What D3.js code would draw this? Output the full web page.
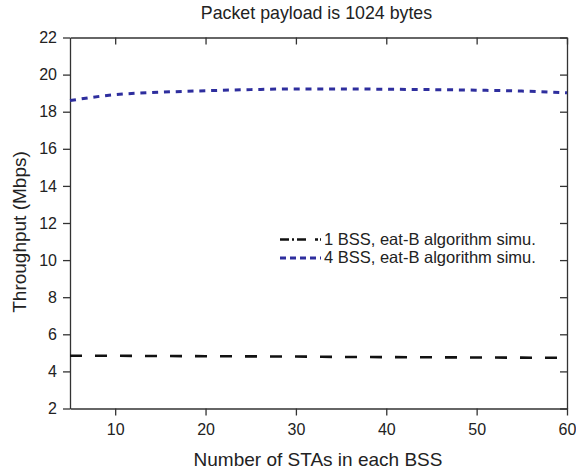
<!DOCTYPE html>
<html><head><meta charset="utf-8">
<script src="https://cdn.jsdelivr.net/npm/d3@7"></script>
<style>body{margin:0;background:#fff}svg{display:block;font-family:"Liberation Sans",Arial,sans-serif}</style>
</head><body><svg id="c" width="576" height="472"></svg>
<script>
const stas = [5,10,15,20,25,30,35,40,45,50,55,60];
const bss1 = [4.84,4.84,4.83,4.82,4.81,4.80,4.78,4.77,4.76,4.75,4.74,4.73];
const bss4 = [18.6,18.92,19.05,19.13,19.19,19.23,19.23,19.21,19.19,19.16,19.11,19.02];
const xTicks = [10,20,30,40,50,60];
const yTicks = [2,4,6,8,10,12,14,16,18,20,22];
const seriesNames = ["1 BSS, eat-B algorithm simu.","4 BSS, eat-B algorithm simu."];

const svg = d3.select("#c");
const L=70,R=567,T=37.5,B=408.5;
const x = d3.scaleLinear().domain([5,60]).range([L,R]);
const y = d3.scaleLinear().domain([2,22]).range([B,T]);
const tk = g=>g.selectAll("text").attr("font-size",16).attr("fill","#222");
const st = g=>{g.select(".domain").attr("stroke","#333").attr("stroke-width",1.3);g.selectAll("line").attr("stroke","#333").attr("stroke-width",1.3);};

svg.append("g").attr("transform",`translate(0,${B})`)
  .call(d3.axisBottom(x).tickValues(xTicks).tickSize(7).tickPadding(8).tickSizeOuter(0))
  .call(g=>{st(g);tk(g);});
svg.append("g").attr("transform",`translate(${L},0)`)
  .call(d3.axisLeft(y).tickValues(yTicks).tickSize(7).tickPadding(6).tickSizeOuter(0))
  .call(g=>{st(g);tk(g);});
svg.append("g").attr("transform",`translate(0,${T})`)
  .call(d3.axisBottom(x).tickValues(xTicks).tickSize(7).tickSizeOuter(0).tickFormat(""))
  .call(st);
svg.append("g").attr("transform",`translate(${R},0)`)
  .call(d3.axisLeft(y).tickValues(yTicks).tickSize(-7).tickSizeOuter(0).tickFormat(""))
  .call(g=>{st(g);g.selectAll(".tick line").attr("x2",-7);});

const line = d3.line().x((d,i)=>x(stas[i])).y(d=>y(d)).curve(d3.curveMonotoneX);
svg.append("path").attr("d",line(bss1)).attr("fill","none").attr("stroke","#111").attr("stroke-width",2.6).attr("stroke-dasharray","12,13");
svg.append("path").attr("d",line(bss4)).attr("fill","none").attr("stroke","#2e2e9e").attr("stroke-width",3).attr("stroke-dasharray","6,5.8");

// legend
const lg = svg.append("g");
const rows=[{c:"#111",d:"9,3,2,3,9",w:2.6},{c:"#2e2e9e",d:"6,4",w:3}];
rows.forEach((r,i)=>{
  const yy=239.5+i*18.5;
  lg.append("line").attr("x1",280).attr("x2",321).attr("y1",yy).attr("y2",yy).attr("stroke",r.c).attr("stroke-width",r.w).attr("stroke-dasharray",r.d);
  lg.append("text").attr("x",324).attr("y",yy+5).attr("font-size",16.5).attr("fill","#222").text(seriesNames[i]);
});

svg.append("text").attr("x",316.5).attr("y",19).attr("text-anchor","middle").attr("font-size",17.8).attr("fill","#222").text("Packet payload is 1024 bytes");
svg.append("text").attr("x",318).attr("y",466).attr("text-anchor","middle").attr("font-size",19).attr("fill","#222").text("Number of STAs in each BSS");
svg.append("text").attr("transform","translate(26,232) rotate(-90)").attr("text-anchor","middle").attr("font-size",19).attr("fill","#222").text("Throughput (Mbps)");
</script></body></html>
